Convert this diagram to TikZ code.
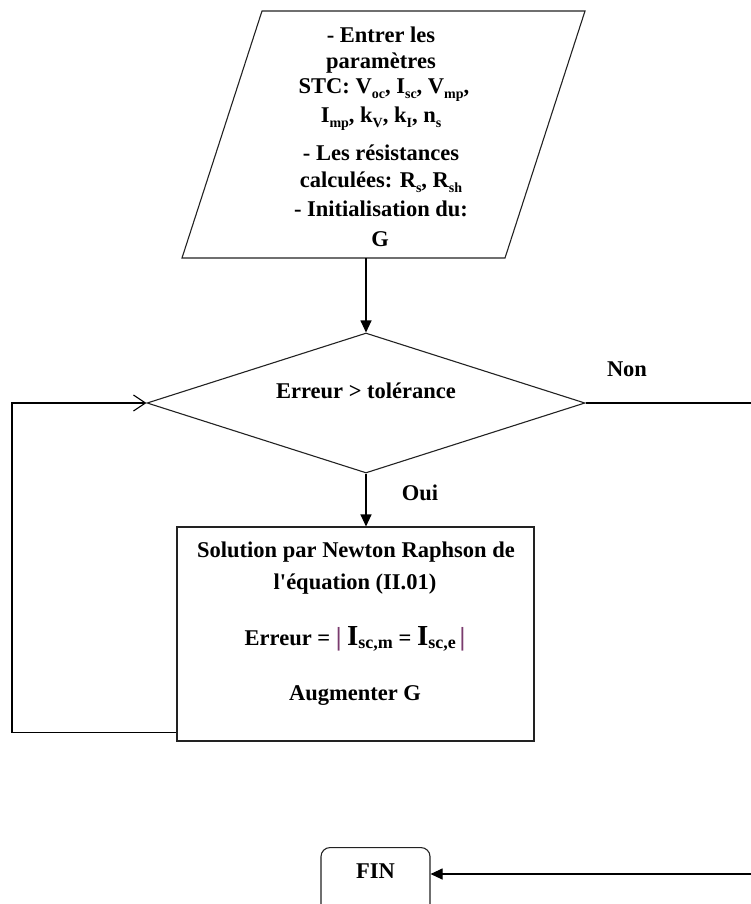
\documentclass[tikz,border=0pt]{standalone}
\usepackage{fontspec}
\setmainfont{Liberation Serif}
\usetikzlibrary{arrows.meta,shapes.geometric}
\definecolor{barc}{HTML}{7A3B6E}
\definecolor{edge}{HTML}{222222}
\newcommand{\sbs}[1]{\raisebox{-5pt}{\fontsize{14}{14}\selectfont #1}}
\newcommand{\bigI}{{\fontsize{29}{29}\selectfont I}}
\newcommand{\mids}[1]{\raisebox{-3pt}{\fontsize{18}{18}\selectfont #1}}
\newcommand{\vbar}{{\color{barc}\fontsize{26}{26}\selectfont|}}
\begin{document}
\begin{tikzpicture}[x=1pt,y=-1pt,line width=1.1pt,
  txt/.style={font=\bfseries\fontsize{22.5}{26}\selectfont,inner sep=0pt,anchor=base},
  arr/.style={-{Triangle[length=12pt,width=11pt]}},
  barb/.style={-{Straight Barb[length=12pt,width=16pt,line width=1.1pt]}},
  box/.style={draw=edge,inner sep=0pt}]
\useasboundingbox (0,0) rectangle (751,904);
% input parallelogram
\coordinate (pTL) at (262,11);
\coordinate (pTR) at (585,11);
\coordinate (pBR) at (505,258);
\coordinate (pBL) at (182,258);
\draw[edge] (pTL) -- (pTR) -- (pBR) -- (pBL) -- cycle;
\coordinate (pOut) at (366,258);
\node[txt] (p1) at (381,43) {- Entrer les};
\node[txt] (p2) at (381,69) {paramètres};
\node[txt] (p3) at (384,94) {STC: V\sbs{oc}, I\sbs{sc}, V\sbs{mp},};
\node[txt] (p4) at (381,123) {I\sbs{mp}, k\sbs{V}, k\sbs{I}, n\sbs{s}};
\node[txt] (p5) at (381,161) {- Les résistances};
\node[txt] (p6) at (381,188) {calculées: R\sbs{s}, R\sbs{sh}};
\node[txt] (p7) at (381,216) {- Initialisation du:};
\node[txt] (p8) at (380,246) {G};
% decision
\node[box,diamond,minimum width=438pt,minimum height=140pt] (dia) at (366,403) {};
\node[txt,anchor=center] (dtext) at (366,391) {Erreur > tolérance};
\draw[arr] (pOut) -- (dia.north);
% process box
\node[box,minimum width=357pt,minimum height=214pt] (rect) at (355.5,634) {};
\node[txt] (r1) at (356,557) {Solution par Newton Raphson de};
\node[txt] (r2) at (355,589) {l\textquotesingle équation (II.01)};
\node[txt] (r3) at (355,645) {Erreur = \vbar\ \bigI\mids{sc,m} = \bigI\mids{sc,e}\,\vbar};
\node[txt] (r4) at (355,700) {Augmenter G};
\draw[arr] (dia.south) -- (dia.south |- rect.north);
\node[txt,anchor=center] (oui) at (420,493) {Oui};
% loop back
\coordinate (lcorner) at (12,403);
\draw[barb] ([yshift=9pt]rect.south west) -| (lcorner) -- (dia.west);
% end
\node[box,rounded corners=9pt,minimum width=109pt,anchor=north,inner ysep=0pt,
  text height=31pt,text depth=49pt,font=\bfseries\fontsize{22.5}{26}\selectfont] (fin) at (375.5,847) {FIN};
\coordinate (rtop) at (757,403);
\coordinate (rbot) at (757,874);
\draw[arr] (dia.east) -- (rtop) -- (rbot) -- (rbot -| fin.east);
\node[txt,anchor=center] (non) at (627,369) {Non};
\end{tikzpicture}
\end{document}
